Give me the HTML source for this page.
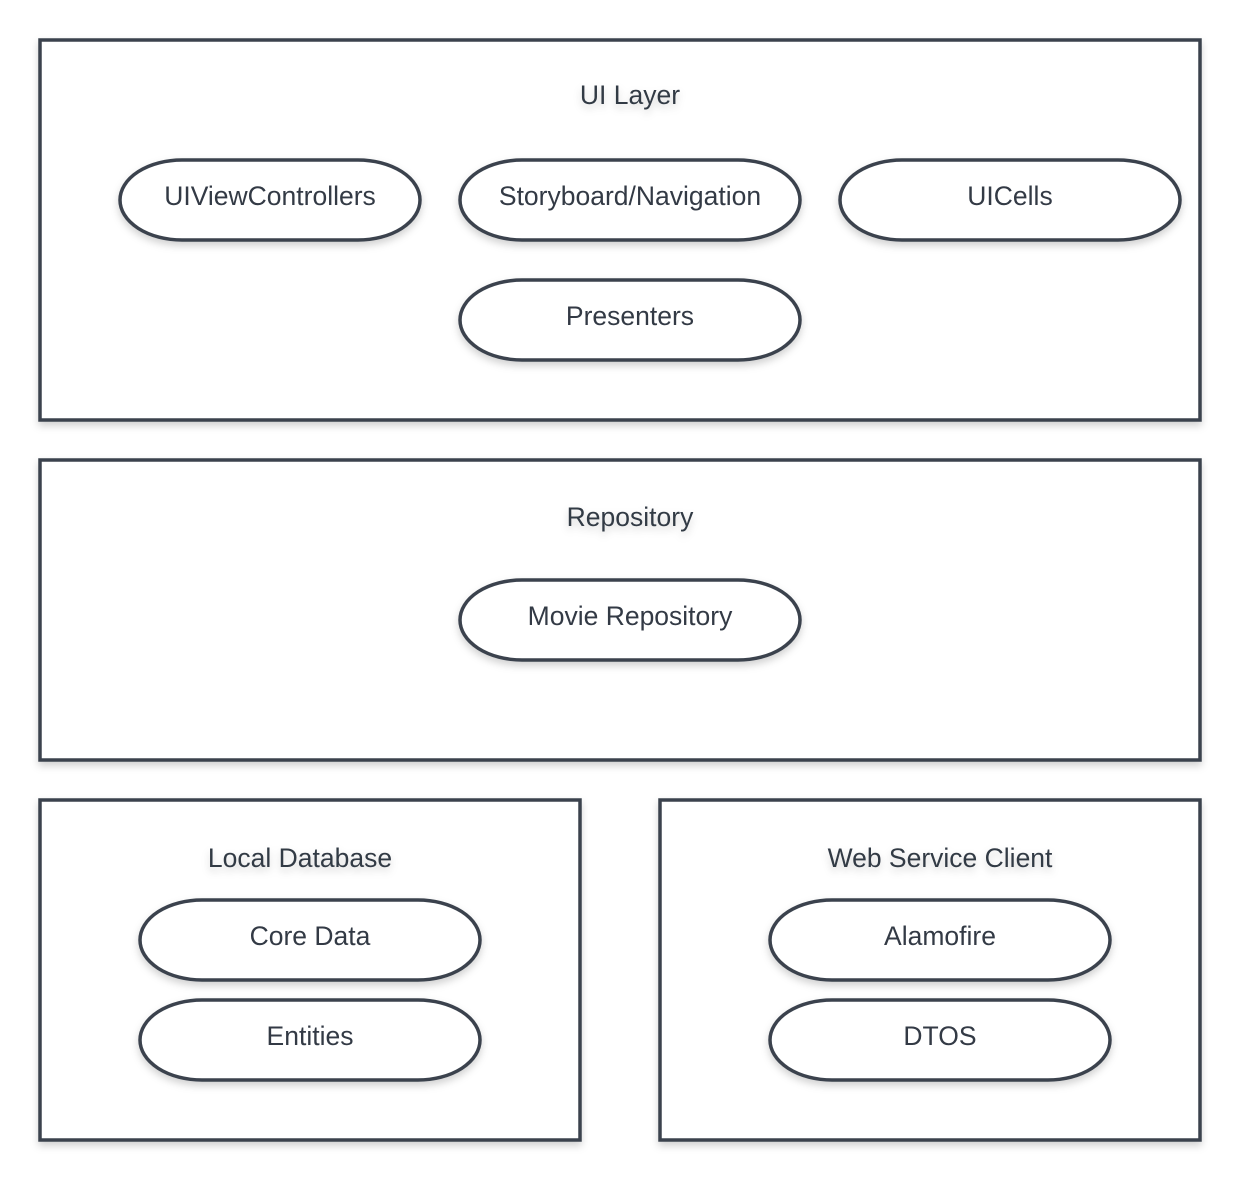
<!DOCTYPE html>
<html><head><meta charset="utf-8"><style>
html,body{margin:0;padding:0;background:#fff;}
svg{display:block;}
text{font-family:"Liberation Sans",Arial,sans-serif;font-size:26.5px;fill:#333a45;text-anchor:middle;}
</style></head><body>
<svg width="1240" height="1180" viewBox="0 0 1240 1180" xmlns="http://www.w3.org/2000/svg">
<defs>
<filter id="sh" x="-10%" y="-10%" width="120%" height="130%">
<feDropShadow dx="0" dy="4" stdDeviation="4" flood-color="#000" flood-opacity="0.18"/>
</filter>
</defs>
<g fill="#fff" stroke="#3a424d" stroke-width="3.5" filter="url(#sh)">
<rect x="40" y="40" width="1160" height="380"/>
<rect x="40" y="460" width="1160" height="300"/>
<rect x="40" y="800" width="540" height="340"/>
<rect x="660" y="800" width="540" height="340"/>
</g>
<g fill="#fff" stroke="#3a424d" stroke-width="3.5" filter="url(#sh)">
<rect x="120" y="160" width="300" height="80" rx="62" ry="40"/>
<rect x="460" y="160" width="340" height="80" rx="62" ry="40"/>
<rect x="840" y="160" width="340" height="80" rx="62" ry="40"/>
<rect x="460" y="280" width="340" height="80" rx="62" ry="40"/>
<rect x="460" y="580" width="340" height="80" rx="62" ry="40"/>
<rect x="140" y="900" width="340" height="80" rx="62" ry="40"/>
<rect x="140" y="1000" width="340" height="80" rx="62" ry="40"/>
<rect x="770" y="900" width="340" height="80" rx="62" ry="40"/>
<rect x="770" y="1000" width="340" height="80" rx="62" ry="40"/>
</g>
<g filter="url(#sh)">
<text x="630" y="104">UI Layer</text>
<text x="630" y="526">Repository</text>
<text x="300" y="867">Local Database</text>
<text x="940" y="867">Web Service Client</text>
</g>
<text x="270" y="205">UIViewControllers</text>
<text x="630" y="205">Storyboard/Navigation</text>
<text x="1010" y="205">UICells</text>
<text x="630" y="325">Presenters</text>
<text x="630" y="625">Movie Repository</text>
<text x="310" y="945">Core Data</text>
<text x="310" y="1045">Entities</text>
<text x="940" y="945">Alamofire</text>
<text x="940" y="1045">DTOS</text>
</svg>
</body></html>
